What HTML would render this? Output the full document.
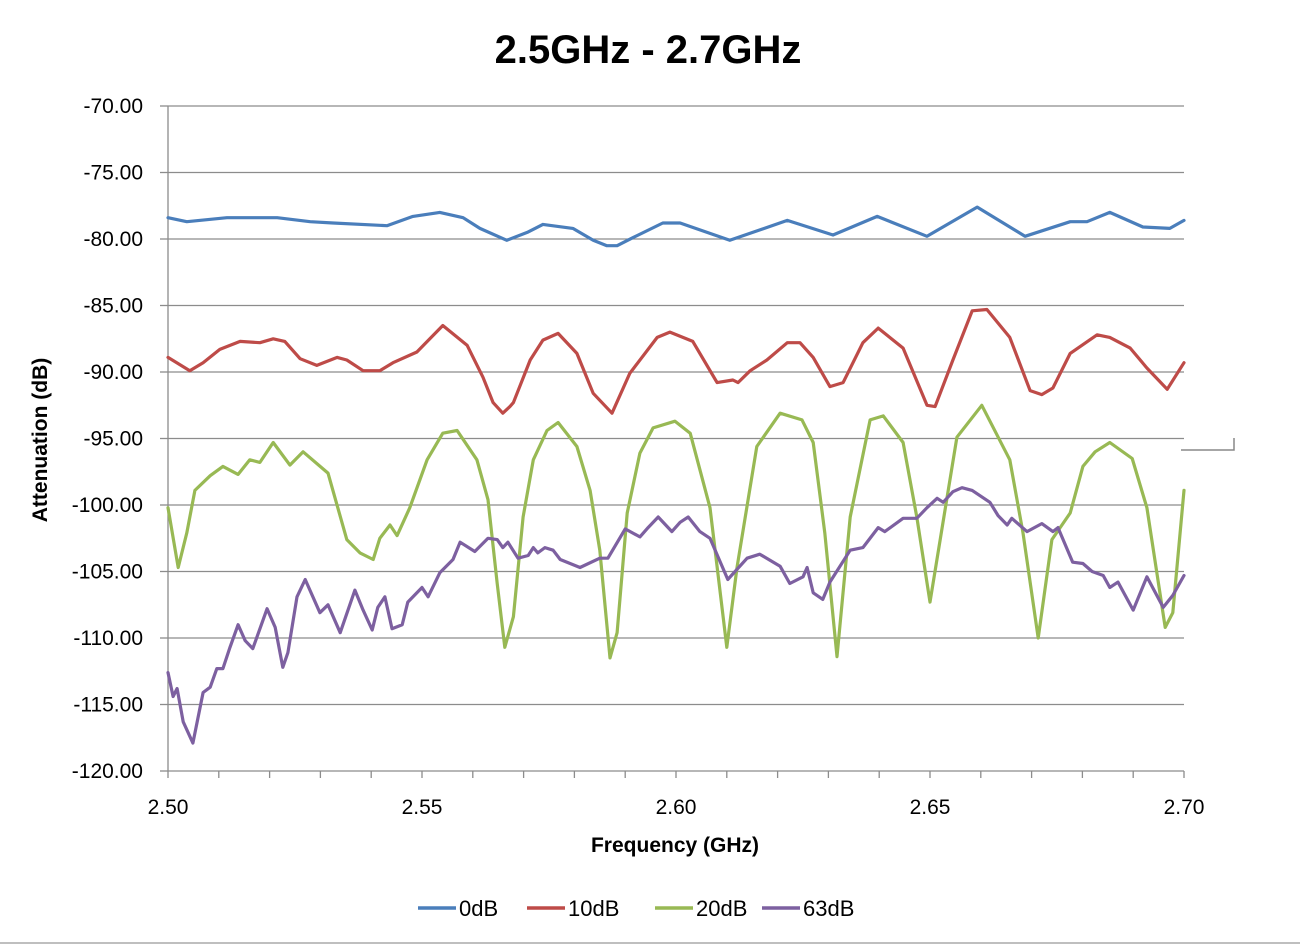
<!DOCTYPE html>
<html><head><meta charset="utf-8"><style>
body{margin:0;background:#fff;width:1300px;height:945px;overflow:hidden;font-family:"Liberation Sans",sans-serif}
svg text{font-family:"Liberation Sans",sans-serif}
</style></head><body>
<svg id="chart" width="1300" height="945" xmlns="http://www.w3.org/2000/svg">
<text x="648" y="63" text-anchor="middle" font-size="40" font-weight="bold">2.5GHz - 2.7GHz</text>
<g id="grid"></g>
<g id="axes"></g>
<g id="series"></g>
<text x="675" y="852" text-anchor="middle" font-size="21" font-weight="bold">Frequency (GHz)</text>
<text transform="translate(47,440) rotate(-90)" text-anchor="middle" font-size="21" font-weight="bold">Attenuation (dB)</text>
<g id="legend"></g>
<path d="M1181 450 H1234 V438" stroke="#888" stroke-width="1.5" fill="none"/>
<line x1="0" y1="943" x2="1300" y2="943" stroke="#aaa" stroke-width="1.5"/>
</svg>
<script>
const yTicks=[-70,-75,-80,-85,-90,-95,-100,-105,-110,-115,-120];
const xTicks=[2.50,2.55,2.60,2.65,2.70];
const seriesNames=["0dB","10dB","20dB","63dB"];
const seriesColors=["#4a7ebb","#be4b48","#98b954","#7d60a0"];
const f0=[2.500,2.5037,2.5116,2.5215,2.528,2.5325,2.5431,2.5482,2.5535,2.5581,2.5614,2.5667,2.5707,2.5738,2.5797,2.5837,2.5864,2.5884,2.5915,2.5974,2.6008,2.6106,2.6219,2.6309,2.6396,2.6494,2.6593,2.6687,2.6776,2.6809,2.6854,2.6919,2.6972,2.700];
const v0=[-78.4,-78.7,-78.4,-78.4,-78.7,-78.8,-79.0,-78.3,-78.0,-78.4,-79.2,-80.1,-79.5,-78.9,-79.2,-80.1,-80.5,-80.5,-79.9,-78.8,-78.8,-80.1,-78.6,-79.7,-78.3,-79.8,-77.6,-79.8,-78.7,-78.7,-78.0,-79.1,-79.2,-78.6];
const f10=[2.500,2.5043,2.5069,2.5102,2.5142,2.5181,2.5207,2.5230,2.526,2.5293,2.5333,2.5352,2.5384,2.5417,2.5443,2.549,2.5541,2.5589,2.562,2.564,2.5659,2.5673,2.568,2.5713,2.5738,2.5768,2.5805,2.5837,2.5874,2.5909,2.5963,2.5988,2.6033,2.6081,2.6112,2.6122,2.6146,2.6179,2.6219,2.6244,2.627,2.6303,2.6329,2.6368,2.6398,2.6447,2.6494,2.651,2.6545,2.6583,2.6612,2.6657,2.6697,2.672,2.6742,2.6776,2.6829,2.6854,2.6894,2.6927,2.6967,2.700];
const v10=[-88.9,-89.9,-89.3,-88.3,-87.7,-87.8,-87.5,-87.7,-89.0,-89.5,-88.9,-89.1,-89.9,-89.9,-89.3,-88.5,-86.5,-88.0,-90.4,-92.3,-93.1,-92.6,-92.3,-89.1,-87.6,-87.1,-88.6,-91.6,-93.1,-90.1,-87.4,-87.0,-87.7,-90.8,-90.6,-90.8,-89.9,-89.1,-87.8,-87.8,-88.9,-91.1,-90.8,-87.8,-86.7,-88.2,-92.5,-92.6,-89.1,-85.4,-85.3,-87.4,-91.4,-91.7,-91.2,-88.6,-87.2,-87.4,-88.2,-89.7,-91.3,-89.3];
const f20=[2.500,2.502,2.5037,2.5053,2.5083,2.5108,2.5138,2.5161,2.5181,2.5207,2.524,2.5266,2.5315,2.5352,2.5378,2.5404,2.5417,2.5437,2.5451,2.5476,2.551,2.5541,2.5569,2.5608,2.563,2.5648,2.5663,2.568,2.5699,2.5719,2.5746,2.5768,2.5805,2.5831,2.585,2.587,2.5884,2.5904,2.5929,2.5955,2.5998,2.6028,2.6067,2.61,2.612,2.6159,2.6205,2.6248,2.627,2.6293,2.6317,2.6343,2.6382,2.6408,2.6447,2.6474,2.65,2.6553,2.6602,2.6657,2.6683,2.6713,2.674,2.6776,2.6801,2.6825,2.6854,2.6898,2.6927,2.6963,2.6978,2.700];
const v20=[-100.2,-104.7,-102.1,-98.9,-97.8,-97.1,-97.7,-96.6,-96.8,-95.3,-97.0,-96.0,-97.6,-102.6,-103.6,-104.1,-102.5,-101.5,-102.3,-100.2,-96.6,-94.6,-94.4,-96.6,-99.6,-105.9,-110.7,-108.4,-100.9,-96.6,-94.4,-93.8,-95.6,-98.9,-103.4,-111.5,-109.6,-100.6,-96.1,-94.2,-93.7,-94.6,-100.2,-110.7,-104.7,-95.6,-93.1,-93.6,-95.3,-102.1,-111.4,-100.9,-93.6,-93.3,-95.3,-100.9,-107.3,-94.9,-92.5,-96.6,-102.1,-110.0,-102.6,-100.6,-97.1,-96.0,-95.3,-96.5,-100.2,-109.2,-108.1,-98.9];
const f63=[2.500,2.501,2.5018,2.503,2.5049,2.5069,2.5083,2.5096,2.5108,2.5122,2.5138,2.5152,2.5167,2.5195,2.5211,2.5226,2.5236,2.5254,2.527,2.5299,2.5315,2.5339,2.5368,2.5384,2.5402,2.5413,2.5427,2.5441,2.5461,2.5472,2.55,2.5512,2.5535,2.5561,2.5575,2.5604,2.563,2.5648,2.5659,2.5669,2.5689,2.5709,2.5719,2.5728,2.5742,2.5758,2.5772,2.5811,2.585,2.5866,2.59,2.5929,2.5945,2.5965,2.5992,2.6008,2.6024,2.6047,2.6067,2.6102,2.614,2.6165,2.6205,2.6224,2.625,2.6258,2.627,2.6289,2.6303,2.6343,2.6368,2.6398,2.6411,2.6447,2.6474,2.6494,2.6514,2.6526,2.6545,2.6563,2.6583,2.6618,2.6634,2.6652,2.6661,2.6691,2.672,2.6742,2.6752,2.6781,2.6801,2.6819,2.6841,2.6854,2.687,2.69,2.6927,2.6959,2.6978,2.700];
const v63=[-112.6,-114.4,-113.8,-116.3,-117.9,-114.1,-113.7,-112.3,-112.3,-110.7,-109.0,-110.2,-110.8,-107.8,-109.2,-112.2,-111.1,-106.9,-105.6,-108.1,-107.5,-109.6,-106.4,-107.9,-109.4,-107.7,-106.9,-109.3,-109.0,-107.3,-106.2,-106.9,-105.1,-104.1,-102.8,-103.5,-102.5,-102.6,-103.2,-102.8,-104.0,-103.8,-103.2,-103.6,-103.2,-103.4,-104.1,-104.7,-104.0,-104.0,-101.8,-102.4,-101.7,-100.9,-102.0,-101.3,-100.9,-102.0,-102.5,-105.6,-104.0,-103.7,-104.6,-105.9,-105.4,-104.7,-106.6,-107.1,-105.8,-103.4,-103.2,-101.7,-102.0,-101.0,-101.0,-100.2,-99.5,-99.8,-99.0,-98.7,-98.9,-99.8,-100.8,-101.5,-101.0,-102.0,-101.4,-102.0,-101.7,-104.3,-104.4,-105.0,-105.3,-106.2,-105.8,-107.9,-105.4,-107.7,-106.8,-105.3];

const X0=168,X1=1184,Y0=106,Y1=771;
const xs=f=>X0+(f-2.5)/0.2*(X1-X0);
const ys=v=>Y0+(-70-v)/50*(Y1-Y0);
const NS="http://www.w3.org/2000/svg";
function mk(tag,attrs,parent){const e=document.createElementNS(NS,tag);for(const k in attrs)e.setAttribute(k,attrs[k]);parent.appendChild(e);return e;}
const grid=document.getElementById('grid'),axes=document.getElementById('axes'),ser=document.getElementById('series'),leg=document.getElementById('legend');
yTicks.forEach(t=>{
  const y=ys(t);
  if(t!==-120){const l=mk('line',{x1:X0,x2:X1,y1:y,y2:y,stroke:'#8c8c8c','stroke-width':1.3},grid);
  
  }
  const tk=mk('line',{x1:X0-8,x2:X0,y1:y,y2:y,stroke:'#8c8c8c','stroke-width':1.3},axes);
  
  
  const tx=mk('text',{x:143,y:y+7,'text-anchor':'end','font-size':21},axes);
  
  
  tx.textContent=t.toFixed(2);
});
const ya=mk('line',{x1:X0,x2:X0,y1:Y0,y2:Y1,stroke:'#8c8c8c','stroke-width':1.3},axes);


const xa=mk('line',{x1:X0,x2:X1,y1:Y1,y2:Y1,stroke:'#8c8c8c','stroke-width':1.3},axes);


for(let i=0;i<=20;i++){
  const x=xs(2.5+i*0.01);
  const tk=mk('line',{x1:x,x2:x,y1:Y1,y2:Y1+7,stroke:'#8c8c8c','stroke-width':1.3},axes);
  
  
}
xTicks.forEach(t=>{
  const tx=mk('text',{x:xs(t),y:814,'text-anchor':'middle','font-size':21},axes);
  
  
  tx.textContent=t.toFixed(2);
});
const F=[f0,f10,f20,f63],V=[v0,v10,v20,v63];
F.forEach((fa,s)=>{
  const d=fa.map((f,i)=>(i?'L':'M')+xs(f).toFixed(1)+' '+ys(V[s][i]).toFixed(1)).join(' ');
  const p=mk('path',{d:d,fill:'none',stroke:seriesColors[s],'stroke-width':3.2,'stroke-linejoin':'round','stroke-linecap':'round'},ser);
  
  
});
const legX=[418,527,655,762];
seriesNames.forEach((n,s)=>{
  const g=mk('g',{},leg);
  
  
  mk('line',{x1:legX[s],x2:legX[s]+38,y1:908,y2:908,stroke:seriesColors[s],'stroke-width':3.5},g);
  const t=mk('text',{x:legX[s]+41,y:916,'font-size':22},g);
  t.textContent=n;
});
</script>
</body></html>
